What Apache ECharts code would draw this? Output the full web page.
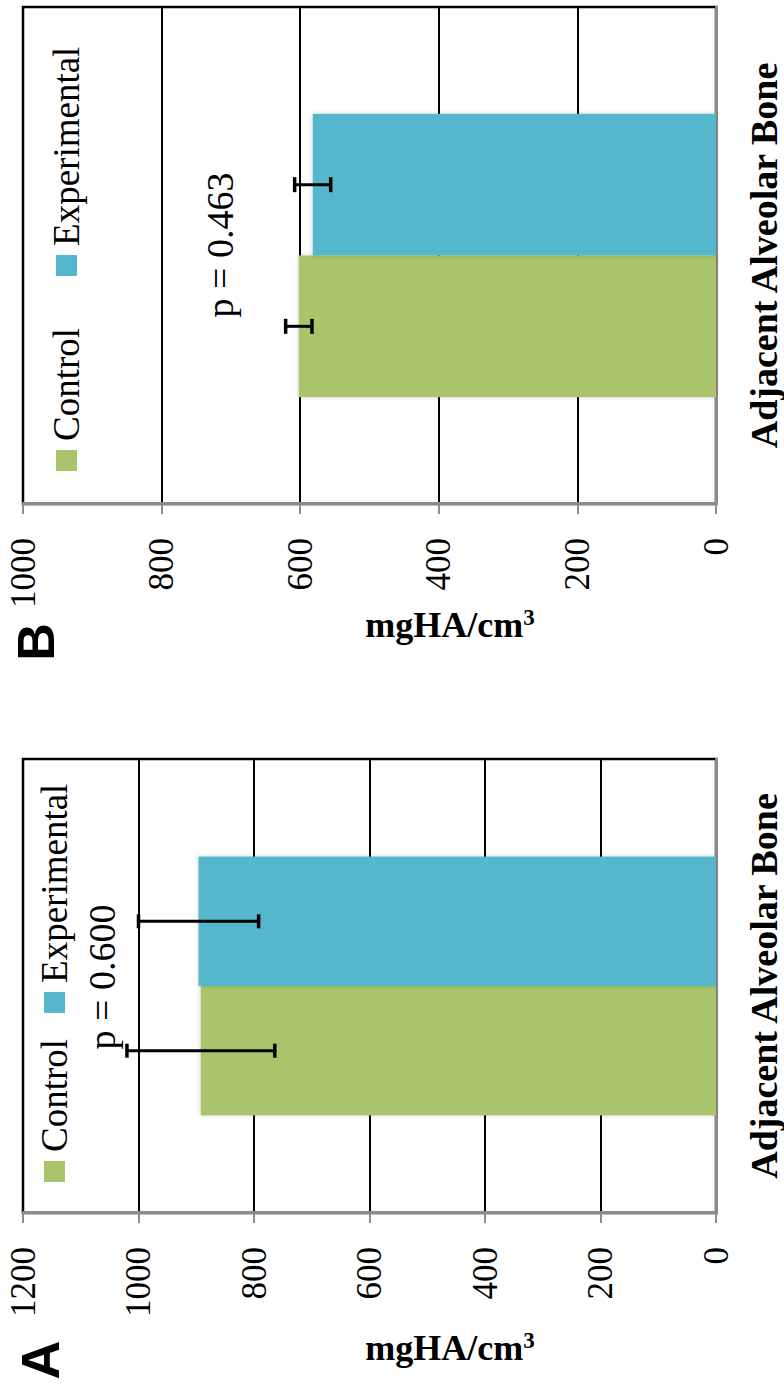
<!DOCTYPE html>
<html lang="en">

<head>
  <meta charset="UTF-8">
  <title>mgHA/cm3 - Adjacent Alveolar Bone</title>
  <script src="https://cdn.jsdelivr.net/npm/echarts@6.0.0/dist/echarts.min.js"></script>
  <style>
    html,
    body {
      margin: 0;
      padding: 0;
      width: 784px;
      height: 1388px;
      overflow: hidden;
      background-color: #fff;
    }

    /* the figure is drawn upright (1388 x 784) and turned a quarter to the left */
    #figure {
      position: absolute;
      left: 0;
      top: 0;
      width: 1388px;
      height: 784px;
      transform-origin: 0 0;
      transform: translateY(1388px) rotate(-90deg);
    }
  </style>
</head>

<body>
  <div id="figure"></div>
  <script>
    // data
    const groups = ['Control', 'Experimental'];
    const categories = ['Adjacent Alveolar Bone'];
    const meansA = [892, 896];
    const errorsA = [128, 104];
    const meansB = [602, 582];
    const errorsB = [19, 26];
    const maxA = 1200;
    const maxB = 1000;
    const tickStep = 200;
    const pTexts = ['p = 0.600', 'p = 0.463'];
    const panelLetters = ['A', 'B'];

    const colors = ['#a9c46b', '#54b7cb'];
    const serif = 'Liberation Serif';
    const gapRatio = 0.43;

    function valueAxis(idx, max) {
      return {
        type: 'value',
        gridIndex: idx,
        min: 0,
        max: max,
        interval: tickStep,
        axisLine: { show: true, lineStyle: { color: '#8c8c8c', width: 3 } },
        axisTick: { show: true, length: 10, lineStyle: { color: '#8c8c8c', width: 2 } },
        axisLabel: {
          color: '#000',
          fontFamily: serif,
          fontSize: 35,
          margin: 34,
          formatter: v => '{n|' + v + '}',
          rich: { n: { fontFamily: serif, fontSize: 35, color: '#000' } }
        },
        splitLine: { show: true, lineStyle: { color: '#000', width: 2 } }
      };
    }

    function categoryAxis(idx) {
      return {
        type: 'category',
        gridIndex: idx,
        data: categories,
        axisLine: { show: true, lineStyle: { color: '#8c8c8c', width: 3 } },
        axisTick: { show: false },
        axisLabel: { color: '#000', fontFamily: serif, fontWeight: 'bold', fontSize: 38, margin: 29 },
        splitLine: { show: false }
      };
    }

    function barSeries(idx, means) {
      return groups.map((name, i) => ({
        type: 'bar',
        name: name,
        xAxisIndex: idx,
        yAxisIndex: idx,
        data: [means[i]],
        barGap: '0%',
        barCategoryGap: (gapRatio * 100) + '%',
        itemStyle: {
          color: colors[i],
          shadowBlur: 4,
          shadowColor: 'rgba(0,0,0,0.2)'
        },
        z: 2
      }));
    }

    function errorSeries(idx, means, errors, cap) {
      return {
        type: 'custom',
        name: 'error' + idx,
        xAxisIndex: idx,
        yAxisIndex: idx,
        z: 5,
        data: means.map((m, i) => [0, m, errors[i], i]),
        renderItem: function (params, api) {
          const mean = api.value(1);
          const err = api.value(2);
          const slot = api.value(3);
          const band = api.size([1, 0])[0];
          const barW = band * (1 - gapRatio) / 2;
          const x = api.coord([api.value(0), mean])[0] + (slot - 0.5) * barW;
          const yHi = api.coord([0, mean + err])[1];
          const yLo = api.coord([0, mean - err])[1];
          const style = { stroke: '#000', lineWidth: 3.5 };
          return {
            type: 'group',
            children: [
              { type: 'line', shape: { x1: x, y1: yHi, x2: x, y2: yLo }, style: { stroke: '#000', lineWidth: 3 } },
              { type: 'line', shape: { x1: x - cap, y1: yHi, x2: x + cap, y2: yHi }, style: style },
              { type: 'line', shape: { x1: x - cap, y1: yLo, x2: x + cap, y2: yLo }, style: style }
            ]
          };
        }
      };
    }

    function legend(left, top, gap) {
      return {
        left: left,
        top: top,
        itemWidth: 21,
        itemHeight: 21,
        itemGap: gap,
        icon: 'rect',
        data: groups,
        textStyle: { color: '#000', fontFamily: serif, fontSize: 37, padding: [0, 0, 0, 4] }
      };
    }

    function yTitle(x) {
      return {
        type: 'text',
        x: x,
        y: 450,
        rotation: -Math.PI / 2,
        z: 10,
        style: {
          text: 'mgHA/cm{s|3}',
          fill: '#000',
          font: "bold 36px 'Liberation Serif', serif",
          align: 'center',
          verticalAlign: 'middle',
          rich: {
            s: { fontFamily: serif, fontWeight: 'bold', fontSize: 23, verticalAlign: 'top', padding: [0, 0, 16, 0] }
          }
        }
      };
    }

    function plainText(text, x, y, font) {
      return {
        type: 'text',
        x: x,
        y: y,
        z: 10,
        style: { text: text, fill: '#000', font: font, align: 'center', verticalAlign: 'middle' }
      };
    }

    const chart = echarts.init(document.getElementById('figure'), null, { renderer: 'svg' });

    const option = {
      animation: false,
      backgroundColor: '#fff',
      textStyle: { fontFamily: serif },
      legend: [legend(201, 31, 26), legend(912, 43, 52)],
      grid: [
        { left: 175, top: 23, width: 454, height: 693, show: true, borderColor: '#000', borderWidth: 2.5 },
        { left: 884, top: 23, width: 497, height: 693, show: true, borderColor: '#000', borderWidth: 2.5 }
      ],
      xAxis: [categoryAxis(0), categoryAxis(1)],
      yAxis: [valueAxis(0, maxA), valueAxis(1, maxB)],
      series: [
        ...barSeries(0, meansA),
        ...barSeries(1, meansB),
        errorSeries(0, meansA, errorsA, 7),
        errorSeries(1, meansB, errorsB, 7.5)
      ],
      graphic: [
        plainText(pTexts[0], 411, 102, "38px 'Liberation Serif', serif"),
        plainText(pTexts[1], 1143, 220, "38px 'Liberation Serif', serif"),
        plainText(panelLetters[0], 28, 40, "bold 54px 'Liberation Sans', sans-serif"),
        plainText(panelLetters[1], 746, 36, "bold 52px 'Liberation Sans', sans-serif"),
        yTitle(40),
        yTitle(763)
      ]
    };

    chart.setOption(option);
  </script>
</body>

</html>
